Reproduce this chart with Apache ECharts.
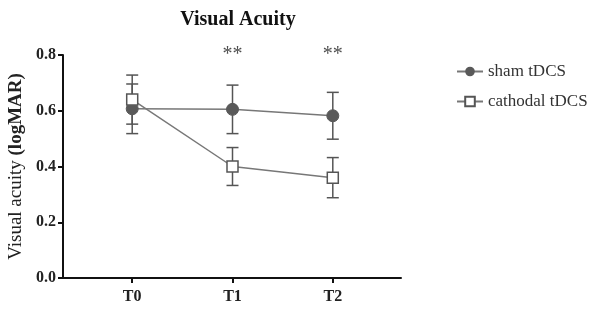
<!DOCTYPE html>
<html>
<head>
<meta charset="utf-8">
<script src="https://cdn.jsdelivr.net/npm/echarts@6/dist/echarts.min.js"></script>
<style>
  html, body { margin: 0; padding: 0; background: #fff; }
  #main { width: 600px; height: 313px; }
</style>
</head>
<body>
<div id="main"></div>
<script>
// time points
var timePoints = ['T0', 'T1', 'T2'];
// sham tDCS: mean and error
var shamMean = [0.607, 0.605, 0.582];
var shamErr = [0.089, 0.087, 0.084];
// cathodal tDCS: mean and error
var cathMean = [0.640, 0.400, 0.360];
var cathErr = [0.088, 0.068, 0.072];
// significance marks
var sigIndex = [1, 2];
var sigText = ['**', '**'];

var serif = '"Liberation Serif", "DejaVu Serif", serif';

function toPoints(arr) {
  return arr.map(function (v, i) { return [i, v]; });
}
function toBars(mean, err) {
  return mean.map(function (v, i) { return [i, v - err[i], v + err[i]]; });
}

// 误差线
function errorBar(params, api) {
  var x = api.value(0);
  var lo = api.coord([x, api.value(1)]);
  var hi = api.coord([x, api.value(2)]);
  var w = 6;
  var style = { stroke: '#555', lineWidth: 1.5 };
  return {
    type: 'group',
    children: [
      { type: 'line', shape: { x1: lo[0], y1: lo[1], x2: hi[0], y2: hi[1] }, style: style },
      { type: 'line', shape: { x1: lo[0] - w, y1: lo[1], x2: lo[0] + w, y2: lo[1] }, style: style },
      { type: 'line', shape: { x1: hi[0] - w, y1: hi[1], x2: hi[0] + w, y2: hi[1] }, style: style }
    ]
  };
}

var chart = echarts.init(document.getElementById('main'));

var option = {
  animation: false,
  title: {
    text: 'Visual Acuity',
    left: 233,
    textAlign: 'center',
    top: 5,
    textStyle: { fontFamily: serif, fontSize: 20, fontWeight: 'bold', color: '#111' }
  },
  legend: {
    data: ['sham tDCS', 'cathodal tDCS'],
    orient: 'vertical',
    left: 451,
    top: 58,
    itemWidth: 26,
    itemHeight: 12,
    itemGap: 13,
    textStyle: { fontFamily: serif, fontSize: 17, color: '#333' }
  },
  grid: { left: 63, right: 199, top: 55, bottom: 35, outerBoundsMode: 'none', containLabel: false },
  xAxis: {
    type: 'value',
    min: -0.69,
    max: 2.68,
    axisLine: { onZero: false, lineStyle: { color: '#111', width: 2 } },
    axisTick: { show: true, length: 5, lineStyle: { color: '#111', width: 2 }, customValues: [0, 1, 2] },
    axisLabel: {
      customValues: [0, 1, 2],
      formatter: function (v) { return timePoints[Math.round(v)]; },
      fontFamily: serif, fontSize: 16, fontWeight: 'bold', color: '#222', margin: 11
    },
    splitLine: { show: false }
  },
  yAxis: {
    type: 'value',
    min: 0,
    max: 0.8,
    interval: 0.2,
    name: '{a|Visual acuity} {b|(logMAR)}',
    nameLocation: 'middle',
    nameGap: 28,
    nameTextStyle: {
      fontFamily: serif, fontSize: 19, color: '#222',
      rich: {
        a: { fontFamily: serif, fontSize: 19, color: '#222' },
        b: { fontFamily: serif, fontSize: 19, fontWeight: 'bold', color: '#222' }
      }
    },
    axisLine: { show: true, onZero: false, lineStyle: { color: '#111', width: 2 } },
    axisTick: { show: true, length: 5, lineStyle: { color: '#111', width: 2 } },
    axisLabel: {
      formatter: function (v) { return v.toFixed(1); },
      fontFamily: serif, fontSize: 16, fontWeight: 'bold', color: '#222', margin: 7
    },
    splitLine: { show: false }
  },
  series: [
    {
      name: 'sham tDCS',
      type: 'line',
      data: toPoints(shamMean),
      symbol: 'circle',
      symbolSize: 12,
      itemStyle: { color: '#595959', borderColor: '#595959' },
      lineStyle: { color: '#777', width: 1.5 },
      z: 3
    },
    {
      name: 'cathodal tDCS',
      type: 'line',
      data: toPoints(cathMean),
      symbol: 'rect',
      symbolSize: 11,
      itemStyle: { color: '#fff', borderColor: '#555', borderWidth: 1.5 },
      lineStyle: { color: '#777', width: 1.5 },
      z: 4
    },
    {
      type: 'custom',
      renderItem: errorBar,
      data: toBars(shamMean, shamErr),
      encode: { x: 0, y: [1, 2] },
      z: 2
    },
    {
      type: 'custom',
      renderItem: errorBar,
      data: toBars(cathMean, cathErr),
      encode: { x: 0, y: [1, 2] },
      z: 2
    },
    {
      type: 'scatter',
      symbolSize: 0,
      data: sigIndex.map(function (i) { return [i, 0.8]; }),
      label: {
        show: true,
        position: 'inside',
        formatter: function (p) { return sigText[p.dataIndex]; },
        fontFamily: serif,
        fontSize: 20,
        color: '#222'
      },
      silent: true
    }
  ]
};

chart.setOption(option);
</script>
</body>
</html>
